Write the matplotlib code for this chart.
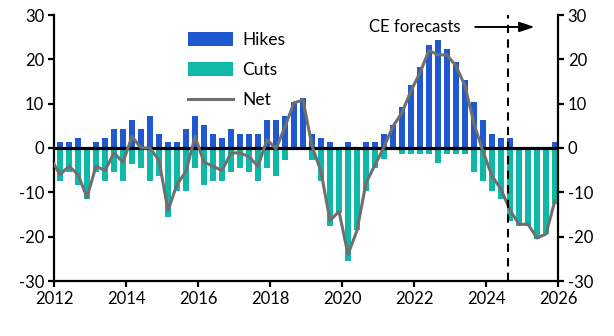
import matplotlib
matplotlib.use('Agg')
import matplotlib.pyplot as plt
import numpy as np
import pandas as pd

plt.rcParams['font.family'] = ['Lato', 'DejaVu Sans']
plt.rcParams['axes.unicode_minus'] = False

# quarterly share of central banks hiking / cutting (2012Q1 - 2025Q4)
hikes = [1.3, 1.3, 2.2, 0.0, 1.3, 2.2, 4.2, 4.2, 6.3, 4.2, 7.2, 3.1,
         1.3, 1.3, 4.2, 7.2, 5.1, 3.1, 2.2, 4.2, 3.1, 3.1, 3.1, 6.3,
         6.3, 7.2, 10.3, 11.2, 3.1, 2.2, 1.3, 0.0, 1.3, 0.0, 1.3, 1.3,
         3.1, 5.1, 9.2, 14.2, 18.3, 23.2, 24.4, 22.3, 19.4, 15.3, 10.3, 6.3,
         3.1, 2.2, 2.2, 0.0, 0.0, 0.0, 0.0, 1.3]
cuts = [-7.5, -5.5, -8.4, -11.6, -5.5, -7.5, -5.5, -7.5, -3.5, -4.6, -7.5, -6.4,
        -15.5, -9.6, -9.6, -4.6, -8.4, -7.5, -7.5, -5.5, -4.6, -5.5, -7.5, -4.6,
        -6.4, -2.6, 0.0, 0.0, -2.6, -7.5, -17.5, -14.6, -25.4, -18.6, -9.6, -4.5,
        -2.4, 0.0, -1.4, -1.4, -1.4, -1.4, -3.4, -1.4, -1.4, -1.4, -5.4, -7.5,
        -9.6, -11.6, -16.5, -17.5, -17.5, -20.5, -19.5, -12.6]
# net line starts one quarter earlier (2011Q4)
net = [-2.5,
       -6.0, -4.1, -6.0, -11.1, -4.1, -5.1, -1.1, -3.2, 2.6, 0.0, 0.0, -2.8,
       -14.1, -8.2, -5.3, 2.6, -3.2, -4.1, -5.1, -1.1, -1.1, -2.0, -4.1, 1.9,
       -0.2, 4.8, 10.2, 10.8, 0.5, -5.3, -16.4, -14.3, -24.0, -18.6, -7.9, -3.8,
       0.2, 4.9, 8.0, 12.9, 17.0, 22.0, 21.0, 21.0, 18.5, 14.0, 5.5, -0.8,
       -6.3, -9.3, -14.0, -17.2, -17.2, -20.3, -19.4, -11.8]

forecast_start = 2024.6
xticks = np.arange(2012, 2027, 2)
yticks = np.arange(-30, 31, 10)


def dec_year(periods):
    return np.array([p.year + (p.quarter * 3 - 1) / 12 for p in periods])


qx = dec_year(pd.period_range('2012Q1', '2025Q4', freq='Q'))
nx = dec_year(pd.period_range('2011Q4', '2025Q4', freq='Q'))

fig = plt.figure(figsize=(6.14, 3.36), dpi=100)
ax = fig.add_axes([54/614, 55/336, 504/614, 266/336])

b1 = ax.bar(qx, hikes, width=0.14, color='#2058cf', label='Hikes', zorder=2)
b2 = ax.bar(qx, cuts, width=0.14, color='#10b9a7', label='Cuts', zorder=2)
ax.axhline(0, color='black', lw=2.3, zorder=3)
l1, = ax.plot(nx, net, color='#6f6f6f', lw=2.2, label='Net', zorder=4)
ax.axvline(forecast_start, color='black', lw=1.5, ls=(0, (4, 3)), zorder=5)

ax.text(2023.3, 27.3, 'CE forecasts', fontsize=12, ha='right', va='center')
ax.annotate('', xy=(2025.35, 27.3), xytext=(2023.7, 27.3),
            arrowprops=dict(arrowstyle='-|>,head_length=0.9,head_width=0.3',
                            color='black', lw=1.4, shrinkA=0, shrinkB=0))

ax.set_xlim(2012, 2026)
ax.set_ylim(-30, 30)
ax.set_xticks(xticks)
ax.set_yticks(yticks)
ax.tick_params(axis='both', direction='out', length=4, width=1.6,
               labelsize=12, pad=3)
ax.tick_params(axis='y', right=True, labelright=True)
ax.spines['top'].set_visible(False)
for s in ['left', 'right', 'bottom']:
    ax.spines[s].set_linewidth(1.6)

ax.legend([b1, b2, l1], ['Hikes', 'Cuts', 'Net'],
          loc='upper left', bbox_to_anchor=(0.266, 0.935), frameon=False,
          fontsize=12.5, handlelength=2.6, handleheight=0.85, labelspacing=0.8,
          handletextpad=0.5, borderpad=0, borderaxespad=0)

plt.savefig('out.png', dpi=100)
